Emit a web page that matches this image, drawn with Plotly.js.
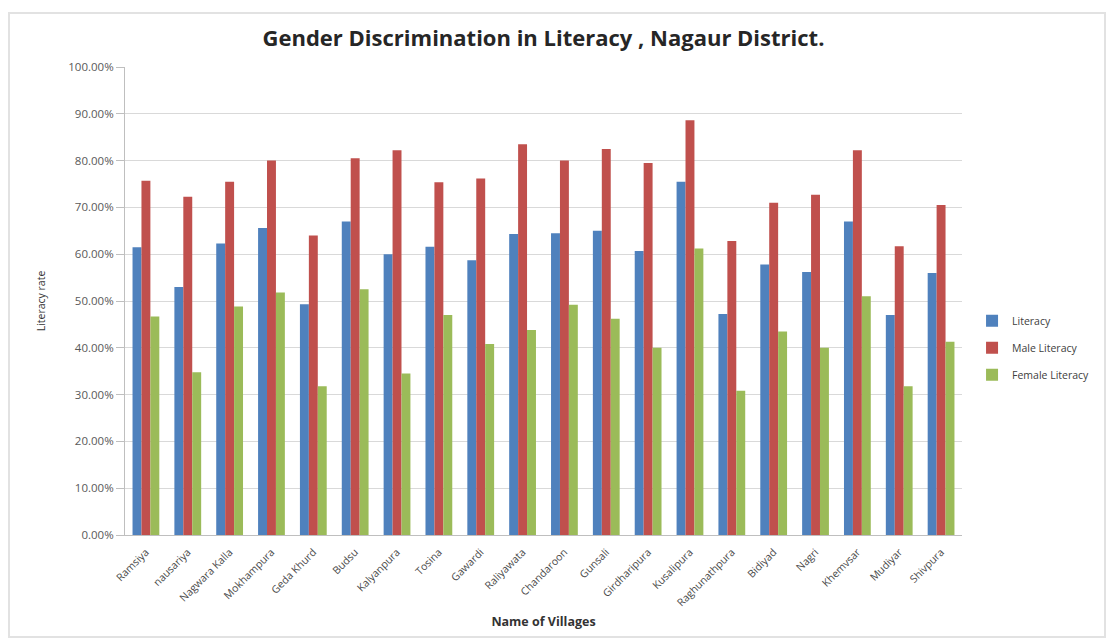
<!DOCTYPE html>
<html>
<head>
<meta charset="utf-8">
<script src="https://cdn.plot.ly/plotly-3.0.1.min.js"></script>
<style>
  html, body { margin: 0; padding: 0; background: #ffffff; }
  #chart { width: 1108px; height: 641px; }
  #frame { position: absolute; left: 8px; top: 12px; width: 1098px; height: 626px;
           border: 2px solid #e2e2e2; box-sizing: border-box; pointer-events: none; }
</style>
</head>
<body>
<div id="chart"></div>
<div id="frame"></div>
<script>
const villages = ["Ramsiya", "nausariya", "Nagwara Kalla", "Mokhampura", "Geda Khurd", "Budsu",
  "Kalyanpura", "Tosina", "Gawardi", "Raliyawata", "Chandaroon", "Gunsali", "Girdharipura",
  "Kusalipura", "Raghunathpura", "Bidiyad", "Nagri", "Khemvsar", "Mudiyar", "Shivpura"];
const literacy = [61.5, 53.0, 62.3, 65.6, 49.3, 67.0, 60.0, 61.6, 58.7, 64.3,
  64.5, 65.0, 60.7, 75.5, 47.2, 57.8, 56.2, 67.0, 47.0, 56.0];
const maleLiteracy = [75.7, 72.3, 75.5, 80.0, 64.0, 80.5, 82.2, 75.4, 76.2, 83.5,
  80.0, 82.5, 79.5, 88.6, 62.8, 71.0, 72.7, 82.2, 61.7, 70.5];
const femaleLiteracy = [46.7, 34.8, 48.8, 51.8, 31.8, 52.5, 34.5, 47.0, 40.8, 43.8,
  49.2, 46.2, 40.0, 61.2, 30.8, 43.5, 40.0, 51.0, 31.8, 41.3];
const seriesNames = ["Literacy", "Male Literacy", "Female Literacy"];
const yTicks = [0, 10, 20, 30, 40, 50, 60, 70, 80, 90, 100];

const colors = ["#4F81BD", "#C0504D", "#9BBB59"];
const allSeries = [literacy, maleLiteracy, femaleLiteracy];

const traces = allSeries.map((vals, i) => ({
  type: "bar",
  name: seriesNames[i],
  legendgroup: "g" + i,
  x: villages,
  y: vals,
  marker: { color: colors[i] },
  hoverinfo: "x+y+name"
}));

const layout = {
  width: 1108,
  height: 641,
  paper_bgcolor: "#ffffff",
  plot_bgcolor: "#ffffff",
  margin: { l: 125, r: 146, t: 67, b: 106 },
  barmode: "group",
  bargap: 0.36,
  bargroupgap: 0,
  font: { family: "Open Sans, Liberation Sans, sans-serif", color: "#404040" },
  title: {
    text: "<b>Gender Discrimination in Literacy , Nagaur District.</b>",
    font: { size: 22, color: "#262626", family: "Open Sans, sans-serif" },
    x: 0.5, xref: "paper", xanchor: "center",
    y: 0.94, yref: "container", yanchor: "middle"
  },
  xaxis: {
    type: "category",
    tickangle: -45,
    tickfont: { size: 10.5, color: "#4a4a4a" },
    ticklabelstandoff: 6,
    showline: true,
    linecolor: "#bfbfbf",
    linewidth: 1,
    ticks: "",
    showgrid: false,
    title: { text: "<b>Name of Villages</b>", font: { size: 12.5, color: "#333333" }, standoff: 9 }
  },
  yaxis: {
    range: [0, 100],
    tickvals: yTicks,
    ticktext: yTicks.map(v => v.toFixed(2) + "%"),
    tickfont: { size: 11.5, color: "#595959" },
    showline: true,
    linecolor: "#bfbfbf",
    linewidth: 1,
    ticks: "outside",
    ticklen: 8,
    tickcolor: "#bfbfbf",
    showgrid: true,
    gridcolor: "#d9d9d9",
    gridwidth: 1,
    zeroline: false,
    title: { text: "Literacy rate", font: { size: 10.5, color: "#333333" }, standoff: 20 }
  },
  legend: {
    x: 1.012, xanchor: "left",
    y: 0.40, yanchor: "middle",
    font: { size: 10.5, color: "#404040" },
    itemwidth: 30,
    tracegroupgap: 8,
    bgcolor: "rgba(0,0,0,0)"
  },
  showlegend: true
};

Plotly.newPlot("chart", traces, layout, { displayModeBar: false, staticPlot: true });
</script>
</body>
</html>
